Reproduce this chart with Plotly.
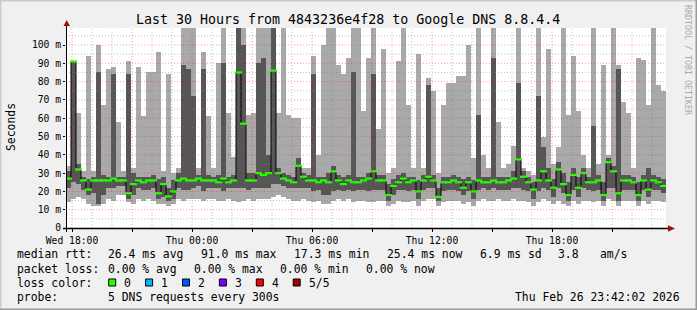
import plotly.graph_objects as go

# ---------------- data (ms) ----------------
START_H = 17.7      # Wed 17:42 expressed in hours since Wed 00:00
STEP_H = 0.25       # one sample per 15 minutes

RTT_MIN = [14, 16, 17, 16, 13, 12, 12, 13, 16, 15,
           18, 18, 14, 13, 16, 15, 16, 15, 13, 13,
           12, 13, 16, 15, 16, 16, 16, 15, 16, 16,
           15, 15, 16, 15, 14, 15, 16, 15, 16, 16,
           16, 17, 18, 17, 16, 15, 15, 16, 15, 14,
           15, 13, 13, 15, 16, 15, 16, 14, 15, 15,
           14, 14, 15, 15, 12, 13, 15, 14, 14, 15,
           12, 15, 16, 16, 12, 14, 15, 15, 15, 13,
           14, 12, 15, 16, 15, 15, 16, 15, 15, 16,
           15, 15, 14, 12, 14, 16, 15, 13, 15, 13,
           12, 15, 13, 15, 15, 14, 15, 12, 16, 15,
           12, 15, 15, 15, 12, 15, 13, 15, 15, 14]
RTT_P2 = [22, 25, 24, 21, 18, 19, 13, 18, 22, 22,
          23, 23, 16, 18, 22, 21, 21, 22, 16, 17,
          15, 16, 22, 21, 21, 22, 23, 20, 22, 22,
          22, 20, 22, 22, 22, 22, 21, 22, 22, 22,
          22, 24, 24, 23, 22, 22, 22, 22, 22, 20,
          21, 18, 18, 20, 21, 20, 21, 20, 21, 21,
          20, 21, 21, 21, 15, 18, 21, 21, 20, 21,
          16, 21, 22, 22, 15, 20, 21, 21, 20, 18,
          20, 16, 21, 22, 21, 22, 21, 21, 21, 22,
          22, 21, 20, 16, 20, 22, 21, 17, 22, 19,
          15, 21, 17, 22, 21, 20, 21, 15, 22, 22,
          15, 21, 21, 21, 15, 21, 17, 21, 21, 19]
RTT_MED = [27, 91, 32, 26, 21, 26, 26, 26, 26, 27,
           26, 26, 19, 24, 26, 25, 26, 26, 19, 24,
           17.3, 20, 26, 27, 26, 26, 27, 26, 26, 26,
           25, 27, 25, 26, 85, 57, 26, 26, 30, 29,
           30, 86, 30, 27, 26, 25, 34, 28, 26, 26,
           25, 26, 25, 31, 26, 24, 26, 25, 25, 26,
           27, 31, 26, 26, 18, 23, 25, 27, 25, 26,
           20, 26, 28, 26, 17, 25, 25, 26, 25, 22,
           25, 20, 26, 25, 25, 26, 25, 25, 26, 27,
           37.5, 28, 25, 21, 26, 31, 26, 22, 32, 24,
           18, 29, 22, 30, 25, 25, 26, 18, 36, 31,
           19, 26, 26, 25, 18, 26, 21, 26, 25, 23]
RTT_P4 = [31, 91, 35, 28, 27, 28, 85, 29, 28, 84,
          28, 28, 84, 30, 28, 28, 28, 29, 27, 28,
          22, 26, 30, 89, 87, 72, 29, 87, 29, 28,
          29, 90, 28, 29, 110, 100, 30, 30, 90, 93,
          40, 110, 33, 30, 29, 28, 38, 30, 29, 84,
          28, 28, 30, 34, 29, 28, 29, 85, 28, 28,
          30, 84, 29, 29, 24, 27, 29, 30, 28, 28,
          26, 29, 78, 29, 22, 28, 28, 29, 28, 27,
          28, 26, 62, 28, 28, 93, 28, 28, 28, 31,
          79, 31, 28, 25, 72, 44, 33, 27, 36, 30,
          25, 33, 28, 33, 28, 56, 29, 25, 38, 34,
          87, 29, 29, 28, 25, 29, 33, 29, 28, 27]
RTT_MAX = [34, 91, 63, 31, 94, 31, 100, 67, 87, 88,
           58, 31, 91, 33, 88, 61, 85, 85, 96, 31,
           84, 30, 33, 110, 110, 110, 33, 96, 61, 33,
           90, 110, 63, 39, 110, 110, 62, 63, 110, 110,
           110, 110, 63, 110, 62, 60, 60, 33, 33, 94,
           40, 100, 110, 110, 89, 84, 93, 110, 110, 64,
           93, 110, 54, 98, 30, 33, 91, 110, 67, 33,
           95, 33, 82, 75, 30, 67, 79, 79, 83, 83,
           100, 38, 110, 40, 33, 110, 58, 33, 35, 45,
           110, 33, 31, 29, 110, 50, 98, 35, 44, 110,
           62, 94, 64, 40, 33, 110, 35, 89, 40, 110,
           89, 69, 63, 33, 93, 92, 67, 110, 78, 75]

X_TICK_HOURS = [18, 21, 24, 27, 30, 33, 36, 39, 42, 45]
X_TICK_TEXT = ["Wed 18:00", "", "Thu 00:00", "", "Thu 06:00", "",
               "Thu 12:00", "", "Thu 18:00", ""]
Y_TICKS = [0, 10, 20, 30, 40, 50, 60, 70, 80, 90, 100]
Y_TICK_TEXT = ["0", "10 m", "20 m", "30 m", "40 m", "50 m",
               "60 m", "70 m", "80 m", "90 m", "100 m"]
Y_TOP = 109.3
X_END = START_H + STEP_H * len(RTT_MED)

RTT_STATS = ["26.4 ms avg", "91.0 ms max", "17.3 ms min", "25.4 ms now",
             "6.9 ms sd", "3.8", "am/s"]
LOSS_STATS = ["0.00 % avg", "0.00 % max", "0.00 % min", "0.00 % now"]
LOSS_LABELS = ["0", "1", "2", "3", "4", "5/5"]
LOSS_COLORS = ["#26ff00", "#00b8ff", "#0059ff", "#7e00ff", "#ff0000", "#a00000"]

TITLE = "Last 30 Hours from 4843236e4f28 to Google DNS 8.8.4.4"
PROBE = "5 DNS requests every 300s"
STAMP = "Thu Feb 26 23:42:02 2026"

# ---------------- geometry helpers ----------------
W, H = 697, 310
PL, PR, PT, PB = 66, 666, 28, 228
MONO = "DejaVu Sans Mono"


def px(x):
    return (x - PL) / (PR - PL)


def py(y):
    return (PB - y) / (PB - PT)


t = [START_H + STEP_H * (i + 0.5) for i in range(len(RTT_MED))]

fig = go.Figure()
fig.add_bar(x=t, y=[b - a for a, b in zip(RTT_MIN, RTT_MAX)], base=RTT_MIN,
            width=STEP_H, marker=dict(color="#a9a9a9", line=dict(width=0)),
            hoverinfo="skip")
fig.add_bar(x=t, y=[b - a for a, b in zip(RTT_P2, RTT_P4)], base=RTT_P2,
            width=STEP_H, marker=dict(color="#565656", line=dict(width=0)),
            hoverinfo="skip")
fig.add_scatter(x=t, y=RTT_MED, mode="lines", line=dict(color="#000000", width=1, shape="hvh"),
                hoverinfo="skip")
fig.add_scatter(x=t, y=RTT_MED, mode="markers",
                marker=dict(symbol="line-ew", size=5, line=dict(color=LOSS_COLORS[0], width=2.2)),
                hoverinfo="skip")

shapes = []
# grid (drawn above the smoke, as rrdtool does)
for h in range(18, int(X_END) + 1):
    major = h in X_TICK_HOURS
    shapes.append(dict(type="line", xref="x", yref="paper", x0=h, x1=h, y0=0, y1=1,
                       layer="above",
                       line=dict(color="rgba(255,0,0,0.38)" if major else "rgba(120,120,120,0.45)",
                                 width=1, dash="1px,2px")))
for v in range(5, int(Y_TOP) + 1, 5):
    major = v in Y_TICKS
    shapes.append(dict(type="line", xref="paper", yref="y", x0=0, x1=1, y0=v, y1=v,
                       layer="above",
                       line=dict(color="rgba(255,0,0,0.38)" if major else "rgba(120,120,120,0.45)",
                                 width=1, dash="1px,2px")))
# axes
shapes.append(dict(type="line", xref="paper", yref="paper", x0=px(63), x1=px(670),
                   y0=py(228.5), y1=py(228.5), layer="above", line=dict(color="#000", width=1.5)))
shapes.append(dict(type="line", xref="paper", yref="paper", x0=px(66.5), x1=px(66.5),
                   y0=py(232), y1=py(25), layer="above", line=dict(color="#000", width=1)))
shapes.append(dict(type="path", xref="paper", yref="paper",
                   path=f"M {px(63.5)} {py(26)} L {px(70)} {py(26)} L {px(66.7)} {py(20)} Z",
                   fillcolor="#a01010", line=dict(width=0), layer="above"))
shapes.append(dict(type="path", xref="paper", yref="paper",
                   path=f"M {px(668)} {py(225.3)} L {px(668)} {py(231.7)} L {px(675)} {py(228.5)} Z",
                   fillcolor="#a01010", line=dict(width=0), layer="above"))
# 3D frame
shapes.append(dict(type="line", xref="paper", yref="paper", x0=px(0), x1=px(W), y0=py(0.5), y1=py(0.5),
                   line=dict(color="#cbcbcb", width=2)))
shapes.append(dict(type="line", xref="paper", yref="paper", x0=px(0.5), x1=px(0.5), y0=py(0), y1=py(H),
                   line=dict(color="#cbcbcb", width=2)))
shapes.append(dict(type="line", xref="paper", yref="paper", x0=px(0), x1=px(W), y0=py(H - 0.5), y1=py(H - 0.5),
                   line=dict(color="#999999", width=2)))
shapes.append(dict(type="line", xref="paper", yref="paper", x0=px(W - 0.5), x1=px(W - 0.5), y0=py(0), y1=py(H),
                   line=dict(color="#999999", width=2)))

annotations = []


def txt(x, y, s, anchor="left", size=11.4, color="#000", angle=0):
    annotations.append(dict(xref="paper", yref="paper", x=px(x), y=py(y), text=s,
                            showarrow=False, xanchor=anchor, yanchor="middle",
                            textangle=angle, borderpad=0,
                            font=dict(family=MONO, size=size, color=color)))


txt(348, 19, TITLE, anchor="center", size=13.3)
txt(11, 127, "Seconds", anchor="center", size=11.4, angle=-90)
txt(688, 60, "RRDTOOL / TOBI OETIKER", anchor="center", size=8.3, color="#aaaaaa", angle=90)

# legend
ROW = [254, 268.5, 282.5, 296.5]
txt(16, ROW[0], "median rtt:")
for xx, s in zip([107, 200, 293, 386, 479, 557, 599], RTT_STATS):
    txt(xx, ROW[0], s)
txt(16, ROW[1], "packet loss:")
for xx, s in zip([107, 193, 279, 365], LOSS_STATS):
    txt(xx, ROW[1], s)
txt(16, ROW[2], "loss color:")
for k, (lab, col) in enumerate(zip(LOSS_LABELS, LOSS_COLORS)):
    bx = 108.7 + 36.9 * k
    shapes.append(dict(type="rect", xref="paper", yref="paper",
                       x0=px(bx), x1=px(bx + 7), y0=py(286), y1=py(279),
                       fillcolor=col, line=dict(color="#000", width=1)))
    txt(bx + 14.5, ROW[2], lab)
txt(16, ROW[3], "probe:")
txt(107, ROW[3], PROBE)
txt(681, ROW[3], STAMP, anchor="right")

fig.update_layout(
    width=W, height=H, autosize=False,
    margin=dict(l=PL, r=W - PR, t=PT, b=H - PB),
    paper_bgcolor="#f0f0f0", plot_bgcolor="#ffffff",
    showlegend=False, barmode="overlay", bargap=0,
    font=dict(family=MONO, color="#000"),
    shapes=shapes, annotations=annotations,
    xaxis=dict(range=[START_H, X_END], tickmode="array", tickvals=X_TICK_HOURS,
               ticktext=X_TICK_TEXT, ticks="outside", ticklen=3, tickcolor="#000",
               showgrid=False, zeroline=False, showline=False,
               tickfont=dict(family=MONO, size=9.7, color="#000"), fixedrange=True),
    yaxis=dict(range=[0, Y_TOP], tickmode="array", tickvals=Y_TICKS,
               ticktext=Y_TICK_TEXT, ticks="outside", ticklen=2, tickcolor="#000",
               showgrid=False, zeroline=False, showline=False,
               tickfont=dict(family=MONO, size=9.7, color="#000"), fixedrange=True),
)

fig.write_html("out.html", config={"displayModeBar": False})
